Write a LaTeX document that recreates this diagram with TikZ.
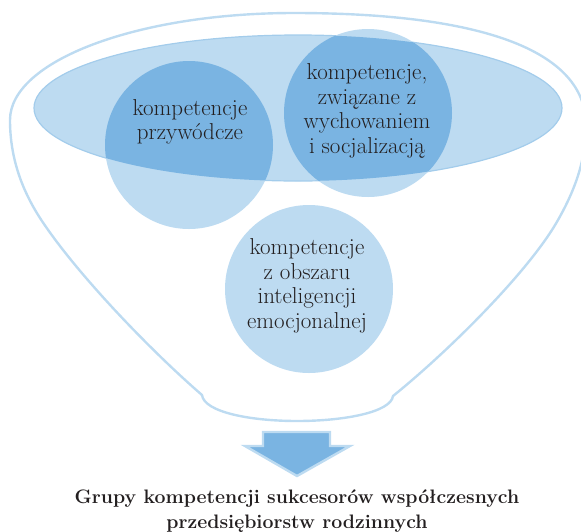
\documentclass[tikz,border=0pt]{standalone}
\usepackage{fontspec}
\definecolor{lb}{HTML}{BDDBF1}
\definecolor{db}{HTML}{7AB4E2}
\definecolor{eb}{HTML}{A3CCEB}
\definecolor{ink}{HTML}{231F20}
\begin{document}
\begin{tikzpicture}[x=1pt,y=-1pt,
  funnel/.style={draw=lb, line width=2.4pt, line join=round},
  bubble/.style={circle, fill=lb, minimum size=168pt, inner sep=0pt},
  txt/.style={align=center, text=ink, font=\fontsize{23}{24.5}\selectfont},
  title/.style={align=center, text=ink, font=\bfseries\fontsize{19.5}{25}\selectfont},
  bigarrow/.style={fill=db, draw=lb, line width=2.4pt, line join=miter}]
\useasboundingbox (0,0) rectangle (581,531);
% funnel outline
\draw[funnel] (202,395) .. controls (150,350) and (75,272) .. (40,218)
  .. controls (22,190) and (10,158) .. (10,120)
  .. controls (10,61) and (137,13) .. (294,13)
  .. controls (480,13) and (586,50) .. (586,125)
  .. controls (586,160) and (575,190) .. (558,220)
  .. controls (530,270) and (450,350) .. (393,396)
  .. controls (391,412) and (345,421) .. (297,421)
  .. controls (250,421) and (204,412) .. (202,395) -- cycle;
% inner ellipse
\path[fill=lb, draw=eb, line width=1.2pt] (298,108) ellipse [x radius=264, y radius=73];
% circles
\node[bubble] (c1) at (189,145) {};
\node[bubble] (c2) at (368,113) {};
\node[bubble] (c3) at (309,289) {};
% overlaps
\begin{scope}
  \clip (298,108) ellipse [x radius=264, y radius=73];
  \fill[db] (189,145) circle [radius=84];
  \fill[db] (368,113) circle [radius=84];
\end{scope}
% texts
\node[txt] (t1) at (190,122) {kompetencje\\przywódcze};
\node[txt] (t2) at (367,111) {kompetencje,\\związane z\\wychowaniem\\i socjalizacją};
\node[txt] (t3) at (307,286) {kompetencje\\z obszaru\\inteligencji\\emocjonalnej};
% arrow
\draw[bigarrow] (263,432) -- (330,432) -- (330,446) -- (350,446) -- (297,476)
  -- (245,446) -- (263,446) -- cycle;
% title
\node[title] (tt) at (297,511) {Grupy kompetencji sukcesorów współczesnych\\przedsiębiorstw rodzinnych};
\end{tikzpicture}
\end{document}
